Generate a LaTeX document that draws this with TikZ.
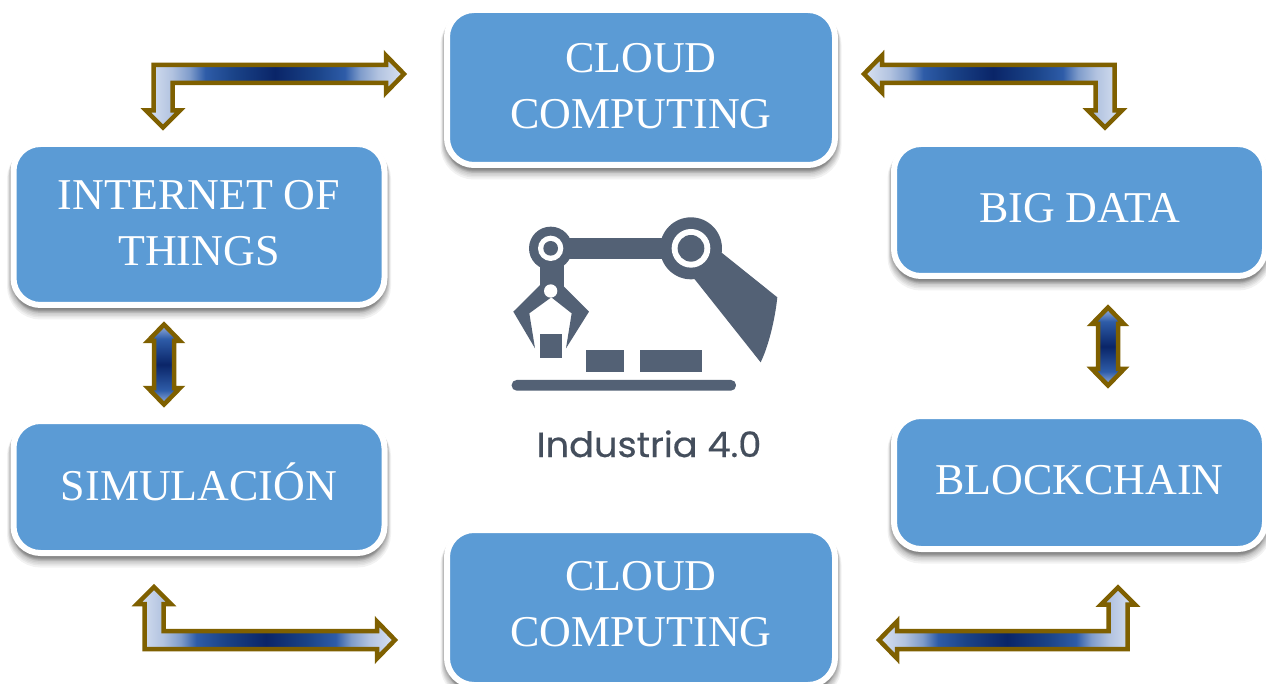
\documentclass[tikz,border=0pt]{standalone}
\usepackage{fontspec}
\setmainfont{Liberation Serif}
\newfontfamily\logofont[FakeBold=0.5,FakeStretch=1.05]{Poppins}
\usetikzlibrary{calc}
\definecolor{boxblue}{HTML}{5B9BD5}
\definecolor{arrowedge}{HTML}{7F6000}
\definecolor{robotgrey}{HTML}{536175}
\definecolor{logotext}{HTML}{444E5C}
\definecolor{gA}{HTML}{DAE3F2}
\definecolor{gB}{HTML}{B2C3E0}
\definecolor{gF}{HTML}{7F9CCB}
\definecolor{gC}{HTML}{2E5CA8}
\definecolor{gG}{HTML}{1A4388}
\definecolor{gD}{HTML}{0A2568}
\definecolor{gE}{HTML}{9DB4E0}
\pgfdeclarehorizontalshading{elbowgrad}{100bp}{color(0bp)=(gA); color(25bp)=(gA); color(30bp)=(gB); color(33.5bp)=(gF); color(36.5bp)=(gC); color(42bp)=(gG); color(50bp)=(gD); color(58bp)=(gG); color(63.5bp)=(gC); color(66.5bp)=(gF); color(70bp)=(gB); color(75bp)=(gA); color(100bp)=(gA)}
\pgfdeclareverticalshading{updowngrad}{100bp}{color(0bp)=(gE); color(25bp)=(gE); color(34bp)=(gC); color(50bp)=(gD); color(66bp)=(gC); color(75bp)=(gE); color(100bp)=(gE)}
\tikzset{
  softshadow/.style 2 args={preaction={fill=black,fill opacity=.05,draw=black,draw opacity=.05,line width=#2pt,transform canvas={yshift=-#1pt}}},
  topicbox/.style={rectangle,rounded corners=27pt,fill=boxblue,draw=white,line width=6pt,
    text=white,font=\fontsize{44}{56}\selectfont,align=center,inner sep=0pt,text depth=4pt,
    softshadow={8}{13},softshadow={7}{11},softshadow={6}{10},softshadow={5}{9},softshadow={4}{8},softshadow={3}{7},softshadow={2}{7}},
  blockarrow/.style={draw=arrowedge,line width=4.5pt,miter limit=10,line join=miter},
  robot/.style={fill=robotgrey,draw=none},
  robothole/.style={fill=white,draw=none},
}
% #1 vertical tip, #2 horizontal tip, #3 horizontal tip side (+1 right), #4 vertical tip side (+1 below)
\newcommand{\elbowarrow}[4]{%
  \path[blockarrow,shade,shading=elbowgrad] let \p1=(#1),\p2=(#2) in
    (\x2,\y2)
    -- ({\x2-(#3)*18pt},{\y2+(#4)*18.5pt}) -- ({\x2-(#3)*18pt},{\y2+(#4)*9pt})
    -- ({\x1-(#3)*9.5pt},{\y2+(#4)*9pt}) -- ({\x1-(#3)*9.5pt},{\y1+(#4)*17pt})
    -- ({\x1-(#3)*17pt},{\y1+(#4)*17pt}) -- (\x1,\y1)
    -- ({\x1+(#3)*17pt},{\y1+(#4)*17pt}) -- ({\x1+(#3)*9.5pt},{\y1+(#4)*17pt})
    -- ({\x1+(#3)*9.5pt},{\y2-(#4)*9pt}) -- ({\x2-(#3)*18pt},{\y2-(#4)*9pt})
    -- ({\x2-(#3)*18pt},{\y2-(#4)*18.5pt}) -- cycle;
}
\newcommand{\twowayarrow}[2]{%
  \path[blockarrow,shade,shading=updowngrad] let \p1=(#1),\p2=(#2) in
    (\x1,\y1) -- ({\x1+16pt},{\y1-16.5pt}) -- ({\x1+10pt},{\y1-16.5pt})
    -- ({\x1+10pt},{\y2+16.5pt}) -- ({\x1+16pt},{\y2+16.5pt}) -- (\x2,\y2)
    -- ({\x1-16pt},{\y2+16.5pt}) -- ({\x1-10pt},{\y2+16.5pt})
    -- ({\x1-10pt},{\y1-16.5pt}) -- ({\x1-16pt},{\y1-16.5pt}) -- cycle;
}
\begin{document}
\begin{tikzpicture}[x=1pt,y=-1pt]
\clip (0,0) rectangle (1266,684);
\fill[white] (0,0) rectangle (1266,684);
% boxes
\node[topicbox,minimum width=388pt,minimum height=155pt] (cloudtop) at (641,87.5) {CLOUD\\COMPUTING};
\node[topicbox,minimum width=371pt,minimum height=161pt] (iot) at (199,224.5) {INTERNET OF\\THINGS};
\node[topicbox,minimum width=371pt,minimum height=132pt] (bigdata) at (1079.5,210) {BIG DATA};
\node[topicbox,minimum width=371pt,minimum height=133pt,text depth=6pt] (blockchain) at (1079.5,482.5) {BLOCKCHAIN};
\node[topicbox,minimum width=371pt,minimum height=132pt,text depth=10pt] (simulacion) at (199,487) {SIMULACIÓN};
\node[topicbox,minimum width=388pt,minimum height=155pt,text depth=8pt] (cloudbottom) at (641,607.5) {CLOUD\\COMPUTING};
% arrow end points
\coordinate (a1v) at (163,127.5);  \coordinate (a1h) at (404,74);
\coordinate (a2v) at (1105,127.5); \coordinate (a2h) at (864,74);
\coordinate (a3v) at (154,587);    \coordinate (a3h) at (395,640);
\coordinate (a4v) at (1118,587.5); \coordinate (a4h) at (879,640);
\coordinate (a5t) at (164,324.5);  \coordinate (a5b) at (164,404.5);
\coordinate (a6t) at (1108,307.5); \coordinate (a6b) at (1108,385.5);
\elbowarrow{a1v}{a1h}{1}{1}
\elbowarrow{a2v}{a2h}{-1}{1}
\elbowarrow{a3v}{a3h}{1}{-1}
\elbowarrow{a4v}{a4h}{-1}{-1}
\twowayarrow{a5t}{a5b}
\twowayarrow{a6t}{a6b}
% robot logo
\begin{scope}[shift={(490,200)},x=0.3333pt,y=-0.3333pt]
  \fill[robot,rounded corners=5pt] (65,540) rectangle (738,572);
  \fill[robot] (150,403) rectangle (217,475);
  \fill[robot] (288,449) rectangle (403,517);
  \fill[robot] (450,449) rectangle (635,517);
  \fill[robot] (182,115) rectangle (603,178);
  \fill[robot] (150,145) rectangle (222,270);
  \fill[robot] (660,130) -- (862,292) .. controls (855,360) and (835,440) .. (812,487) -- (600,220) -- cycle;
  \fill[robot] (603,145) circle[radius=93];
  \fill[robot] (182,145) circle[radius=65];
  \fill[robot] (184,222) -- (297,335) -- (228,445) -- (245,340) -- (184,292) -- (118,340) -- (135,445) -- (70,335) -- cycle;
  \fill[robothole] (603,145) circle[radius=58];
  \fill[robot] (603,145) circle[radius=40];
  \fill[robothole] (182,145) circle[radius=38];
  \fill[robot] (182,145) circle[radius=22];
  \fill[robothole] (182,273) circle[radius=20];
\end{scope}
\node[text=logotext,font=\logofont\fontsize{35}{35}\selectfont,inner sep=0pt,anchor=base] (logotitle) at (649,457) {Industria 4.0};
\end{tikzpicture}
\end{document}
